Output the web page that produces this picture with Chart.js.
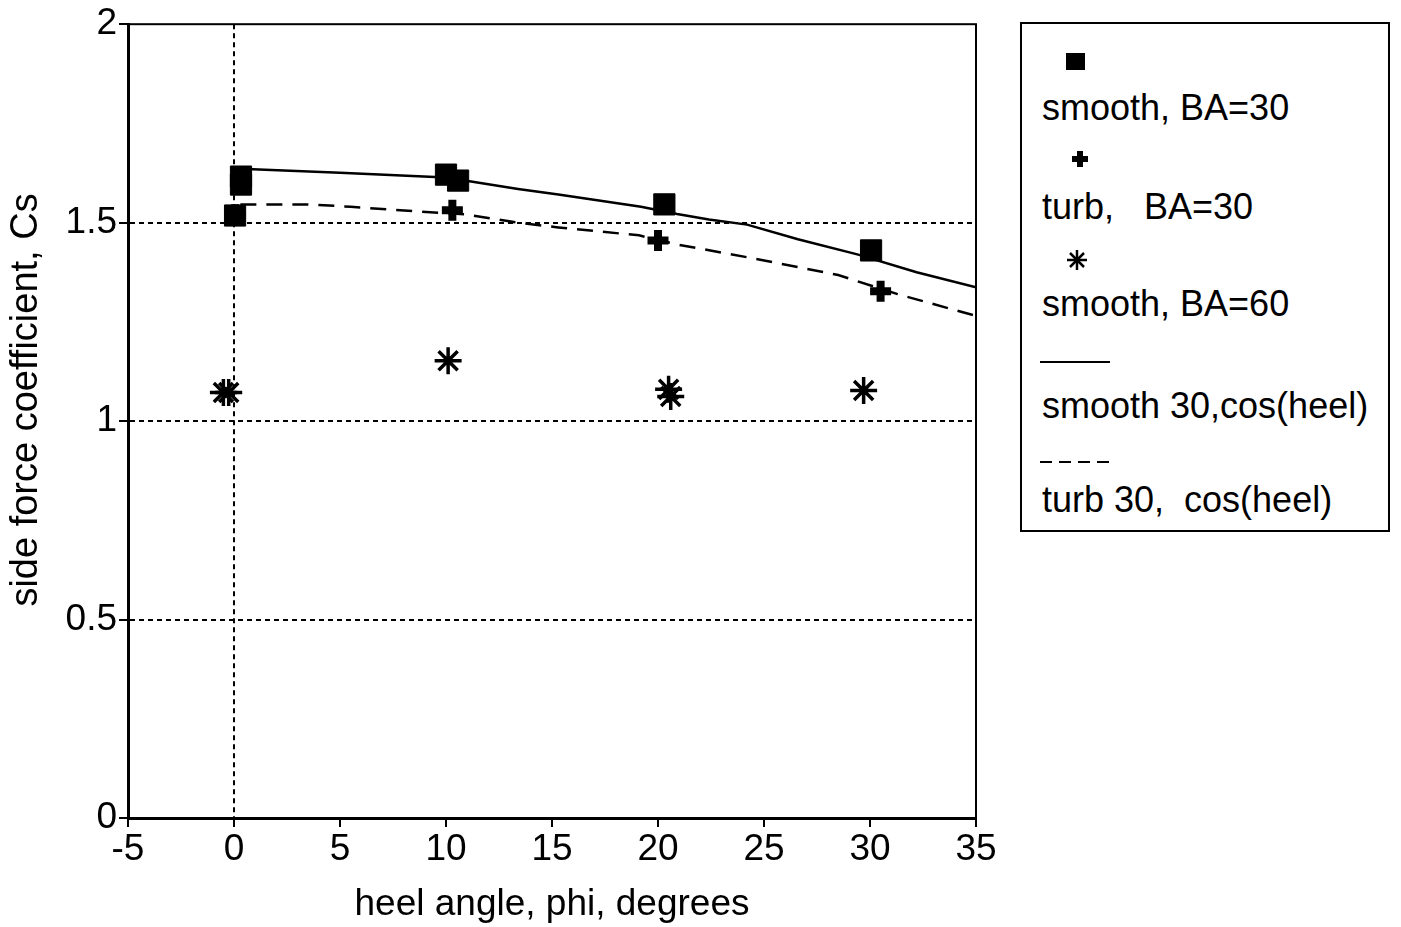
<!DOCTYPE html>
<html>
<head>
<meta charset="utf-8">
<script src="https://cdn.jsdelivr.net/npm/chart.js@4.4.1/dist/chart.umd.min.js"></script>
<style>
  html, body { margin: 0; padding: 0; background: #fff; }
  #wrap { position: relative; width: 1401px; height: 927px; overflow: hidden; font-family: "Liberation Sans", Arial, sans-serif; }
  #c { position: absolute; left: 0; top: 0; }
  #legend { position: absolute; left: 1020px; top: 22px; width: 366px; height: 506px; border: 2px solid #000; background: #fff; }
  .lt { position: absolute; left: 20px; font-size: 36px; line-height: 40px; color: #000; white-space: pre; }
  .lm { position: absolute; }
</style>
</head>
<body>
<div id="wrap">
  <canvas id="c" width="1401" height="927"></canvas>
  <div id="legend"></div>
</div>
<script>
// ---- data ----
const xTickLabels = ['-5', '0', '5', '10', '15', '20', '25', '30', '35'];
const yTickLabels = ['0', '0.5', '1', '1.5', '2'];

const seriesLabels = ['smooth, BA=30', 'turb,   BA=30', 'smooth, BA=60', 'smooth 30,cos(heel)', 'turb 30,  cos(heel)'];

const smooth30X = [0.33, 0.33, 0.05, 10.0, 10.57, 20.3, 30.05];
const smooth30Y = [1.616, 1.596, 1.518, 1.621, 1.606, 1.546, 1.43];

const turb30X = [0.05, 10.3, 20.0, 30.5];
const turb30Y = [1.52, 1.531, 1.455, 1.327];

const smooth60X = [-0.5, -0.25, 10.1, 20.5, 20.6, 29.7];
const smooth60Y = [1.072, 1.072, 1.152, 1.08, 1.062, 1.077];

const smoothCosX = [0.3, 5, 10, 13.4, 15.3, 19.2, 20.9, 22.4, 24.2, 26.6, 29.4, 32.2, 35];
const smoothCosY = [1.636, 1.626, 1.614, 1.585, 1.571, 1.540, 1.522, 1.508, 1.495, 1.458, 1.420, 1.375, 1.337];

const turbCosX = [0.3, 3.5, 5.5, 8.7, 10.9, 13.4, 15.3, 19.1, 20.9, 24.7, 28.5, 31.3, 35];
const turbCosY = [1.546, 1.546, 1.540, 1.528, 1.521, 1.500, 1.488, 1.468, 1.445, 1.408, 1.368, 1.320, 1.265];

function pts(xs, ys) { return xs.map((x, i) => ({ x: x, y: ys[i] })); }

const FONT = '"Liberation Sans", Arial, sans-serif';

const boxPlugin = {
  id: 'box',
  beforeDatasetsDraw(chart) {
    const a = chart.chartArea, ctx = chart.ctx;
    ctx.save();
    ctx.strokeStyle = '#000';
    ctx.lineWidth = 2;
    ctx.strokeRect(a.left, a.top, a.right - a.left, a.bottom - a.top);
    ctx.restore();
  }
};

const chart = new Chart(document.getElementById('c'), {
  type: 'scatter',
  data: {
    datasets: [
      { label: seriesLabels[0], data: pts(smooth30X, smooth30Y), pointStyle: 'rect', pointRadius: 15, backgroundColor: '#000', borderColor: '#000', borderWidth: 1, showLine: false },
      { label: seriesLabels[1], data: pts(turb30X, turb30Y), pointStyle: 'cross', pointRadius: 10.5, borderColor: '#000', borderWidth: 8, showLine: false },
      { label: seriesLabels[2], data: pts(smooth60X, smooth60Y), pointStyle: 'star', pointRadius: 13.5, borderColor: '#000', borderWidth: 3.5, showLine: false },
      { label: seriesLabels[3], data: pts(smoothCosX, smoothCosY), showLine: true, pointRadius: 0, borderColor: '#000', borderWidth: 2.5, tension: 0 },
      { label: seriesLabels[4], data: pts(turbCosX, turbCosY), showLine: true, pointRadius: 0, borderColor: '#000', borderWidth: 2.5, borderDash: [16, 10], tension: 0 }
    ]
  },
  options: {
    responsive: false,
    animation: false,
    layout: { padding: { top: 22, right: 425, left: 0, bottom: 0 } },
    plugins: { legend: { display: false }, tooltip: { enabled: false } },
    scales: {
      x: {
        type: 'linear', min: -5, max: 35,
        afterFit(s) { s.height = 109; },
        ticks: {
          stepSize: 5, padding: 1, color: '#000',
          font: { family: FONT, size: 37 },
          callback: (v) => { const i = Math.round((v + 5) / 5); return xTickLabels[i] !== undefined ? xTickLabels[i] : ''; }
        },
        grid: {
          color: (ctx) => (ctx.tick && ctx.tick.value === 0) ? '#000' : 'rgba(0,0,0,0)',
          lineWidth: 2, tickColor: '#000', tickWidth: 2, tickLength: 9, drawTicks: true
        },
        border: { display: true, color: '#000', width: 3, dash: [5, 4] },
        title: { display: true, text: 'heel angle, phi, degrees', color: '#000', font: { family: FONT, size: 37 }, padding: { top: 0, bottom: 0 } }
      },
      y: {
        type: 'linear', min: 0, max: 2,
        afterFit(s) { s.width = 128; },
        ticks: {
          stepSize: 0.5, padding: 2, color: '#000',
          font: { family: FONT, size: 37 },
          callback: (v) => { const i = Math.round(v / 0.5); return yTickLabels[i] !== undefined ? yTickLabels[i] : ''; }
        },
        grid: {
          color: (ctx) => (ctx.tick && ctx.tick.value > 0 && ctx.tick.value < 2) ? '#000' : 'rgba(0,0,0,0)',
          lineWidth: 2, tickColor: '#000', tickWidth: 2, tickLength: 9, drawTicks: true
        },
        border: { display: true, color: '#000', width: 3, dash: [5, 4] },
        title: { display: true, text: '    side force coefficient, Cs', color: '#000', font: { family: FONT, size: 38 }, padding: { top: 4, bottom: 0 } }
      }
    }
  },
  plugins: [boxPlugin]
});

// ---- legend (HTML) ----
const legend = document.getElementById('legend');
const markerY = [38, 135, 235, 330, 430];
const textY = [84, 183, 280, 382, 476];
const svgs = [
  '<svg width="24" height="24"><rect x="2" y="3" width="19" height="17" fill="#000"/></svg>',
  '<svg width="24" height="24"><line x1="12" y1="4" x2="12" y2="20" stroke="#000" stroke-width="6"/><line x1="4" y1="12" x2="20" y2="12" stroke="#000" stroke-width="6"/></svg>',
  '<svg width="26" height="26"><g stroke="#000" stroke-width="2.5"><line x1="13" y1="3" x2="13" y2="23"/><line x1="3" y1="13" x2="23" y2="13"/><line x1="6" y1="6" x2="20" y2="20"/><line x1="20" y1="6" x2="6" y2="20"/></g></svg>',
  '<svg width="72" height="6"><line x1="0" y1="3" x2="70" y2="3" stroke="#000" stroke-width="2"/></svg>',
  '<svg width="72" height="6"><line x1="0" y1="3" x2="70" y2="3" stroke="#000" stroke-width="2" stroke-dasharray="12,7"/></svg>'
];
const markerX = [42, 46, 42, 18, 18];
seriesLabels.forEach((lab, i) => {
  const m = document.createElement('div');
  m.className = 'lm';
  m.style.left = markerX[i] + 'px';
  m.style.top = (markerY[i] - (i < 3 ? 12 : 3)) + 'px';
  m.innerHTML = svgs[i];
  legend.appendChild(m);
  const t = document.createElement('div');
  t.className = 'lt';
  t.style.top = (textY[i] - 20) + 'px';
  t.textContent = lab;
  legend.appendChild(t);
});
</script>
</body>
</html>
